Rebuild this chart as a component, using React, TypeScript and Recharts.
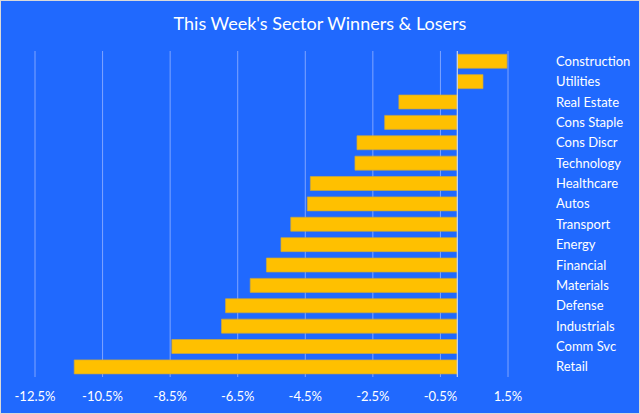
import React from "react";
import { BarChart, Bar, XAxis, YAxis, CartesianGrid, ReferenceLine } from "recharts";

const sectors = [
  "Construction", "Utilities", "Real Estate", "Cons Staple", "Cons Discr", "Technology",
  "Healthcare", "Autos", "Transport", "Energy", "Financial", "Materials", "Defense",
  "Industrials", "Comm Svc", "Retail",
];
const changes = [
  1.47, 0.76, -1.73, -2.15, -2.97, -3.03, -4.35, -4.44, -4.93, -5.22, -5.65, -6.13,
  -6.86, -6.98, -8.45, -11.34,
];
const xTicks = [-12.5, -10.5, -8.5, -6.5, -4.5, -2.5, -0.5, 1.5];
const title = "This Week's Sector Winners & Losers";

const data = sectors.map((s, i) => ({ sector: s, value: changes[i] }));

const FONT = "Lato, 'Open Sans', sans-serif";
const BG = "#2069FE";

export default function App() {
  return (
    <div
      style={{
        position: "absolute",
        left: 0,
        top: 0,
        width: 640,
        height: 414,
        background: BG,
        boxSizing: "border-box",
        border: "1px solid #D9D9D9",
        fontFamily: FONT,
      }}
    >
      <div
        style={{
          position: "absolute",
          left: 0,
          top: 11,
          width: 638,
          textAlign: "center",
          color: "#FFFFFF",
          fontSize: 18,
          fontFamily: FONT,
        }}
      >
        {title}
      </div>
      <div style={{ position: "absolute", left: -1, top: -1 }}>
        <BarChart
          width={640}
          height={414}
          data={data}
          layout="vertical"
          margin={{ top: 51, right: 0, bottom: 0, left: 35 }}
          barCategoryGap="16%"
        >
          <CartesianGrid horizontal={false} vertical={true} stroke="#7FA5FF" strokeWidth={1} />
          <XAxis
            type="number"
            domain={[-12.5, 1.5]}
            ticks={xTicks}
            interval={0}
            allowDataOverflow
            tickFormatter={(v: number) => `${v.toFixed(1)}%`}
            axisLine={false}
            tickLine={false}
            tickMargin={9}
            height={37}
            tick={{ fill: "#FFFFFF", fontSize: 13, fontFamily: FONT }}
          />
          <YAxis
            type="category"
            dataKey="sector"
            orientation="right"
            width={132}
            axisLine={false}
            tickLine={false}
            tickMargin={42}
            interval={0}
            tick={{ fill: "#FFFFFF", fontSize: 13, fontFamily: FONT, textAnchor: "start" }}
          />
          <ReferenceLine x={0} stroke="#C9D5EC" strokeWidth={1.2} />
          <Bar
            dataKey="value"
            fill="#FFC000"
            stroke="#C9A640"
            strokeWidth={0.7}
            isAnimationActive={false}
          />
        </BarChart>
      </div>
    </div>
  );
}
